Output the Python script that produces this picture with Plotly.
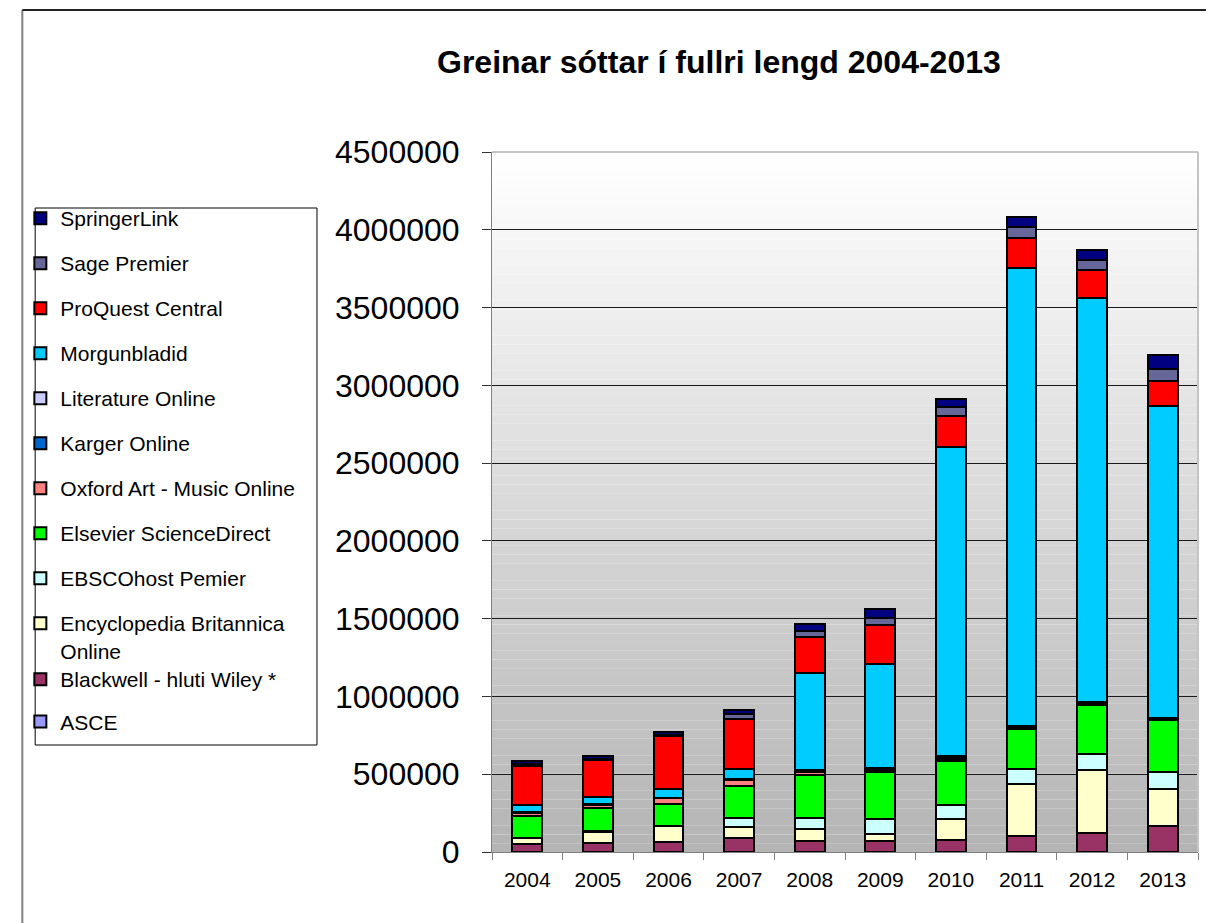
import plotly.graph_objects as go

years = ["2004", "2005", "2006", "2007", "2008", "2009", "2010", "2011", "2012", "2013"]

asce = [0, 0, 0, 0, 2000, 2000, 3000, 3000, 3000, 3000]
blackwell = [50000, 60000, 64000, 92000, 66000, 66000, 71000, 103000, 120000, 167000]
britannica = [37000, 70000, 100000, 70000, 80000, 48000, 139000, 332000, 405000, 236000]
ebsco = [6000, 5000, 5000, 54000, 70000, 96000, 92000, 96000, 103000, 107000]
elsevier = [140000, 145000, 140000, 208000, 279000, 300000, 277000, 258000, 313000, 336000]
oxford = [18000, 22000, 35000, 38000, 20000, 18000, 12000, 8000, 8000, 5000]
karger = [2000, 2000, 3000, 3000, 5000, 4000, 10000, 7000, 7000, 4000]
literature = [2000, 2000, 3000, 3000, 5000, 4000, 10000, 6000, 6000, 4000]
morgunbladid = [45000, 45000, 55000, 64000, 626000, 671000, 1987000, 2939000, 2594000, 2006000]
proquest = [255000, 240000, 340000, 320000, 231000, 252000, 205000, 194000, 182000, 157000]
sage = [10000, 8000, 8000, 34000, 39000, 43000, 54000, 69000, 65000, 82000]
springer = [20000, 17000, 17000, 26000, 43000, 58000, 55000, 66000, 65000, 86000]

# (name, values, colour, legend, legend rank) in stacking order bottom -> top
series = [
    ("ASCE", asce, "#9999FF", "legend2", 12),
    ("Blackwell - hluti Wiley *", blackwell, "#993366", "legend2", 11),
    ("Encyclopedia Britannica<br>Online", britannica, "#FFFFCC", "legend", 10),
    ("EBSCOhost Pemier", ebsco, "#CCFFFF", "legend", 9),
    ("Elsevier ScienceDirect", elsevier, "#00FF00", "legend", 8),
    ("Oxford Art - Music Online", oxford, "#FF8080", "legend", 7),
    ("Karger Online", karger, "#0066CC", "legend", 6),
    ("Literature Online", literature, "#CCCCFF", "legend", 5),
    ("Morgunbladid", morgunbladid, "#00CCFF", "legend", 4),
    ("ProQuest Central", proquest, "#FF0000", "legend", 3),
    ("Sage Premier", sage, "#666699", "legend", 2),
    ("SpringerLink", springer, "#000080", "legend", 1),
]

fig = go.Figure()
for name, vals, color, lg, rank in series:
    fig.add_trace(go.Bar(
        x=years, y=vals, name=name, legend=lg, legendgroup=name, legendrank=rank,
        marker=dict(color=color, line=dict(color="black", width=2)),
    ))

# page offset (body margin) compensation
O = 8
FW, FH = 1214 - O, 923 - O
# plot area geometry in reference pixels
L, R, T, B = 484, 1198, 152, 852
W, H = R - L, B - T
def px(x):
    return (x - L) / W
def py(y):
    return (B - y) / H

shapes = []
N = 80
for i in range(N):
    f = (i + 0.5) / N
    c = int(round(180 + (255 - 180) * f))
    shapes.append(dict(type="rect", xref="paper", yref="paper", x0=0, x1=1, y0=i / N, y1=(i + 1) / N,
                       fillcolor=f"rgb({c},{c},{c})", line=dict(width=0), layer="below"))
shapes.append(dict(type="line", xref="paper", yref="paper", x0=0, x1=1, y0=1, y1=1,
                   line=dict(color="#C4C4C4", width=2), layer="above"))
shapes.append(dict(type="line", xref="paper", yref="paper", x0=1, x1=1, y0=0, y1=1,
                   line=dict(color="#C4C4C4", width=2), layer="above"))
shapes.append(dict(type="rect", xref="paper", yref="paper", x0=px(22), x1=px(307), y0=py(745), y1=py(208),
                   line=dict(color="black", width=1), fillcolor="rgba(0,0,0,0)", layer="above"))
shapes.append(dict(type="line", xref="paper", yref="paper", x0=px(9), x1=px(9), y0=py(940), y1=py(10),
                   line=dict(color="#808080", width=2), layer="above"))
shapes.append(dict(type="line", xref="paper", yref="paper", x0=px(9), x1=px(1230), y0=py(10), y1=py(10),
                   line=dict(color="#222222", width=2), layer="above"))

fig.update_layout(
    width=FW, height=FH,
    margin=dict(l=L - O, r=1214 - R, t=T - O, b=923 - B, pad=0),
    paper_bgcolor="white", plot_bgcolor="white",
    font=dict(family="Liberation Sans, Arial, sans-serif", color="black"),
    barmode="stack", bargap=0.58,
    shapes=shapes,
    annotations=[dict(text="<b>Greinar sóttar í fullri lengd 2004-2013</b>", xref="paper", yref="paper",
                      x=px(714), y=py(62), xanchor="center", yanchor="middle", showarrow=False,
                      font=dict(size=32, color="black"))],
    xaxis=dict(type="category", tickson="boundaries", ticks="outside", ticklen=7, tickcolor="#808080",
               showline=True, linecolor="#808080", linewidth=1, showgrid=False,
               tickfont=dict(size=21), ticklabelstandoff=9),
    yaxis=dict(range=[0, 4500000], dtick=500000, tickformat="d", showgrid=True, gridcolor="#1a1a1a",
               gridwidth=1, ticks="outside", ticklen=9, tickcolor="#333333", showline=True,
               linecolor="#808080", linewidth=1, zeroline=False, tickfont=dict(size=32),
               ticklabelstandoff=16),
    legend=dict(x=px(7), y=py(198), xanchor="left", yanchor="top", font=dict(size=21),
                traceorder="grouped", tracegroupgap=14.7, bgcolor="rgba(0,0,0,0)",
                borderwidth=0, valign="top"),
    legend2=dict(x=px(7), y=py(659), xanchor="left", yanchor="top", font=dict(size=21),
                 traceorder="grouped", tracegroupgap=12, bgcolor="rgba(0,0,0,0)",
                 borderwidth=0, valign="top"),
)

fig.write_html("out.html")
